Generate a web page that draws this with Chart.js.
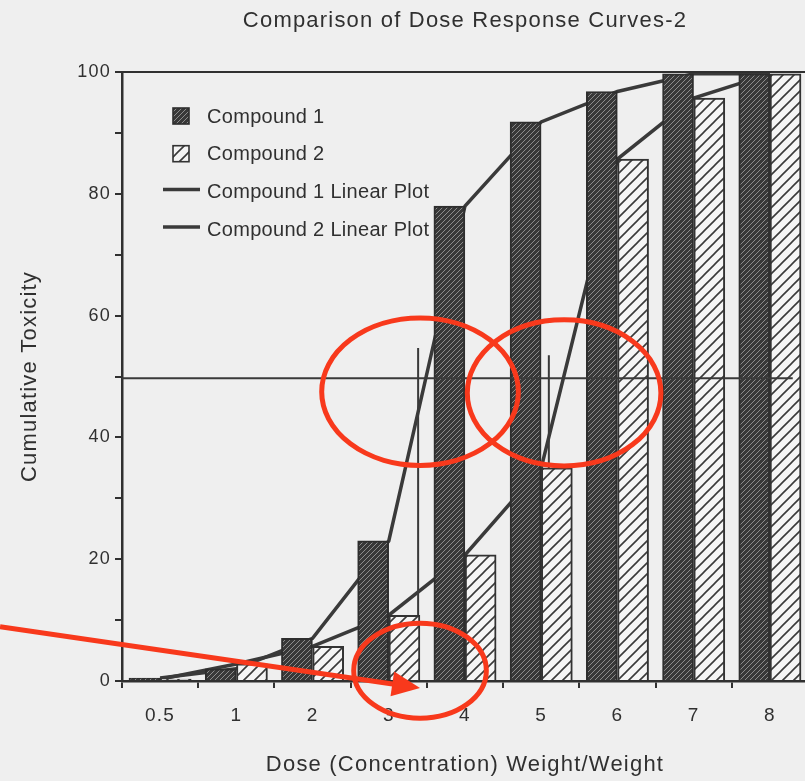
<!DOCTYPE html>
<html><head><meta charset="utf-8">
<style>
html,body{margin:0;padding:0;background:#efefef;overflow:hidden;width:805px;height:781px;}
#wrap{position:absolute;left:0;top:0;width:810px;height:781px;}
</style>
<script src="https://cdn.jsdelivr.net/npm/chart.js@4.4.1/dist/chart.umd.min.js"></script>
</head><body>
<div id="wrap"><canvas id="c" width="810" height="781"></canvas></div>
<script>
// ---- data ----
const categories = ['0.5', '1', '2', '3', '4', '5', '6', '7', '8'];
const compound1 = [0.5, 2, 7, 23, 78, 91.8, 96.8, 99.7, 99.7];
const compound2 = [0.3, 2.8, 5.7, 10.8, 20.7, 35, 85.7, 95.7, 99.7];
const yTickStep = 10;
const yLabelEvery = 20;
const ld50Level = [{x: -0.5, y: 49.7}, {x: 8.3, y: 49.7}];
const ld50Compound1 = [{x: 3.385, y: 54.7}, {x: 3.385, y: 0}];
const ld50Compound2 = [{x: 5.10, y: 53.5}, {x: 5.10, y: 0}];
// red hand-drawn annotations (data units of the hidden linear x axis / y axis)
const annotationEllipses = [
  {x: 3.41, y: 47.5, rx: 1.29, ry: 12.1},
  {x: 5.30, y: 47.3, rx: 1.27, ry: 12.0},
  {x: 3.41, y: 1.7, rx: 0.87, ry: 7.8}
];
const annotationArrow = [{x: -2.1, y: 8.9}, {x: 3.41, y: -1.15}];

// styling constants
const FONT = '"Liberation Sans", Arial, Helvetica, sans-serif';
const INK = '#303030';
const RED = '#f8391c';
const BG = '#efefef';
const BAR_HALF = 0.205;   // half of one bar, in category units (pair is side by side)
const BAR_PX = 31;

const toPoints = (arr, shift) => arr.map((v, i) => ({x: i + shift, y: v}));

const canvas = document.getElementById('c');
const mainCtx = canvas.getContext('2d');
function makePattern(bg, fg, size, lw) {
  const t = document.createElement('canvas');
  t.width = size; t.height = size;
  const g = t.getContext('2d');
  g.fillStyle = bg; g.fillRect(0, 0, size, size);
  g.strokeStyle = fg; g.lineWidth = lw;
  g.beginPath();
  g.moveTo(-1, size + 1); g.lineTo(size + 1, -1);
  g.moveTo(-size / 2 - 1, size / 2 + 1); g.lineTo(size / 2 + 1, -size / 2 - 1);
  g.moveTo(size / 2 - 1, size * 1.5 + 1); g.lineTo(size * 1.5 + 1, size / 2 - 1);
  g.stroke();
  return mainCtx.createPattern(t, 'repeat');
}
const darkPattern = makePattern('#383838', '#8c8c8c', 5, 1);
const hatchPattern = makePattern('#f5f5f5', '#3a3a3a', 11, 1.6);

Chart.defaults.font.family = FONT;
Chart.defaults.color = INK;

const bgPlugin = {
  id: 'bg',
  beforeDraw(chart) {
    const ctx = chart.ctx;
    ctx.save();
    ctx.fillStyle = BG;
    ctx.fillRect(0, 0, chart.width, chart.height);
    ctx.restore();
    try { ctx.letterSpacing = '1.2px'; } catch (e) {}
  }
};

const framePlugin = {
  id: 'frame',
  afterDatasetsDraw(chart) {
    const {ctx, chartArea} = chart;
    ctx.save();
    ctx.strokeStyle = INK; ctx.lineWidth = 2;
    ctx.beginPath();
    ctx.moveTo(chartArea.left, chartArea.top);
    ctx.lineTo(chartArea.right + 5, chartArea.top);
    ctx.stroke();
    ctx.restore();
  }
};

const legendPlugin = {
  id: 'insideLegend',
  afterDraw(chart) {
    const {ctx, chartArea} = chart;
    const ds = chart.data.datasets.filter(d => d.inLegend);
    const boxX = chartArea.left + 51, textX = chartArea.left + 85;
    ctx.save();
    try { ctx.letterSpacing = '0.3px'; } catch (e) {}
    ctx.font = '20px ' + FONT;
    ctx.textBaseline = 'middle';
    ctx.fillStyle = INK;
    ds.forEach((d, i) => {
      const y = chartArea.top + 44 + i * 37.7;
      if (d.type === 'bar') {
        ctx.fillStyle = d.backgroundColor;
        ctx.fillRect(boxX, y - 8, 16, 16);
        ctx.strokeStyle = d.borderColor; ctx.lineWidth = 1.6;
        ctx.strokeRect(boxX, y - 8, 16, 16);
      } else {
        ctx.strokeStyle = d.borderColor; ctx.lineWidth = d.borderWidth;
        ctx.beginPath();
        ctx.moveTo(boxX - 10, y - 2); ctx.lineTo(boxX + 27, y - 2);
        ctx.stroke();
      }
      ctx.fillStyle = INK;
      ctx.fillText(d.label, textX, y + 1);
    });
    ctx.restore();
  }
};

const annotationPlugin = {
  id: 'redMarks',
  afterDraw(chart) {
    const {ctx} = chart;
    const xs = chart.scales.xl, ys = chart.scales.y;
    ctx.save();
    ctx.strokeStyle = RED; ctx.fillStyle = RED; ctx.lineWidth = 5;
    annotationEllipses.forEach(e => {
      const cx = xs.getPixelForValue(e.x), cy = ys.getPixelForValue(e.y);
      const rx = Math.abs(xs.getPixelForValue(e.x + e.rx) - cx);
      const ry = Math.abs(ys.getPixelForValue(e.y + e.ry) - cy);
      ctx.beginPath();
      ctx.ellipse(cx, cy, rx, ry, 0, 0, Math.PI * 2);
      ctx.stroke();
    });
    const p0 = {x: xs.getPixelForValue(annotationArrow[0].x), y: ys.getPixelForValue(annotationArrow[0].y)};
    const p1 = {x: xs.getPixelForValue(annotationArrow[1].x), y: ys.getPixelForValue(annotationArrow[1].y)};
    const ang = Math.atan2(p1.y - p0.y, p1.x - p0.x);
    const headLen = 28, headHalf = 12.5;
    const bx = p1.x - headLen * Math.cos(ang), by = p1.y - headLen * Math.sin(ang);
    ctx.beginPath();
    ctx.moveTo(p0.x, p0.y); ctx.lineTo(bx + 2 * Math.cos(ang), by + 2 * Math.sin(ang));
    ctx.stroke();
    ctx.beginPath();
    ctx.moveTo(p1.x, p1.y);
    ctx.lineTo(bx + headHalf * Math.sin(ang), by - headHalf * Math.cos(ang));
    ctx.lineTo(bx - headHalf * Math.sin(ang), by + headHalf * Math.cos(ang));
    ctx.closePath();
    ctx.fill();
    ctx.restore();
  }
};

const barBase = {type: 'bar', xAxisID: 'xl', yAxisID: 'y', grouped: false, barThickness: BAR_PX,
                 borderWidth: 2, order: 1, inLegend: true};
const lineBase = {type: 'line', xAxisID: 'xl', yAxisID: 'y', pointRadius: 0, tension: 0, fill: false,
                  borderColor: '#3a3a3a'};

new Chart(canvas, {
  type: 'bar',
  data: {
    labels: categories,
    datasets: [
      Object.assign({}, barBase, {label: 'Compound 1', data: toPoints(compound1, -BAR_HALF),
       backgroundColor: darkPattern, borderColor: '#2e2e2e'}),
      Object.assign({}, barBase, {label: 'Compound 2', data: toPoints(compound2, BAR_HALF),
       backgroundColor: hatchPattern, borderColor: '#333333'}),
      Object.assign({}, lineBase, {label: 'Compound 1 Linear Plot', data: toPoints(compound1, 0),
       borderWidth: 3.5, order: 2, inLegend: true}),
      Object.assign({}, lineBase, {label: 'Compound 2 Linear Plot', data: toPoints(compound2, 0),
       borderWidth: 3.5, order: 2, inLegend: true}),
      Object.assign({}, lineBase, {label: 'LD50 Compound 1', data: ld50Compound1, borderWidth: 2, order: 3}),
      Object.assign({}, lineBase, {label: 'LD50 Compound 2', data: ld50Compound2, borderWidth: 2, order: 3}),
      Object.assign({}, lineBase, {label: '50%', data: ld50Level, borderWidth: 2, order: 0})
    ]
  },
  options: {
    responsive: false,
    animation: false,
    layout: {padding: {left: 0, right: 2, top: 0, bottom: 0}},
    plugins: {
      legend: {display: false},
      tooltip: {enabled: false},
      title: {
        display: true, text: 'Comparison of Dose Response Curves-2', fullSize: false,
        font: {size: 22, weight: 'normal', family: FONT}, color: INK,
        padding: {top: 8, bottom: 37.6}
      }
    },
    scales: {
      x: {
        type: 'category',
        offset: true,
        grid: {offset: true, drawOnChartArea: false, drawTicks: true, tickLength: 7, color: INK, lineWidth: 2},
        border: {display: true, color: INK, width: 2.5},
        ticks: {font: {size: 19}, padding: 16, color: INK, maxRotation: 0},
        title: {display: true, text: 'Dose (Concentration) Weight/Weight', font: {size: 22}, color: INK,
                padding: {top: 20, bottom: 3}},
        afterFit: s => { s.height = 100; }
      },
      xl: {type: 'linear', display: false, offset: false, grid: {offset: false}, min: -0.5, max: 8.5},
      y: {
        min: 0, max: 100,
        ticks: {stepSize: yTickStep, font: {size: 18}, padding: 4, color: INK,
                callback: v => (v % yLabelEvery === 0 ? String(v) : '')},
        grid: {drawOnChartArea: false, drawTicks: true, tickLength: 7, color: INK, lineWidth: 2},
        border: {display: true, color: INK, width: 2.5},
        title: {display: true, text: 'Cumulative Toxicity', font: {size: 22}, color: INK,
                padding: {top: 17, bottom: 0}},
        afterFit: s => { s.width = 122; }
      }
    }
  },
  plugins: [bgPlugin, framePlugin, legendPlugin, annotationPlugin]
});
</script>
</body></html>
